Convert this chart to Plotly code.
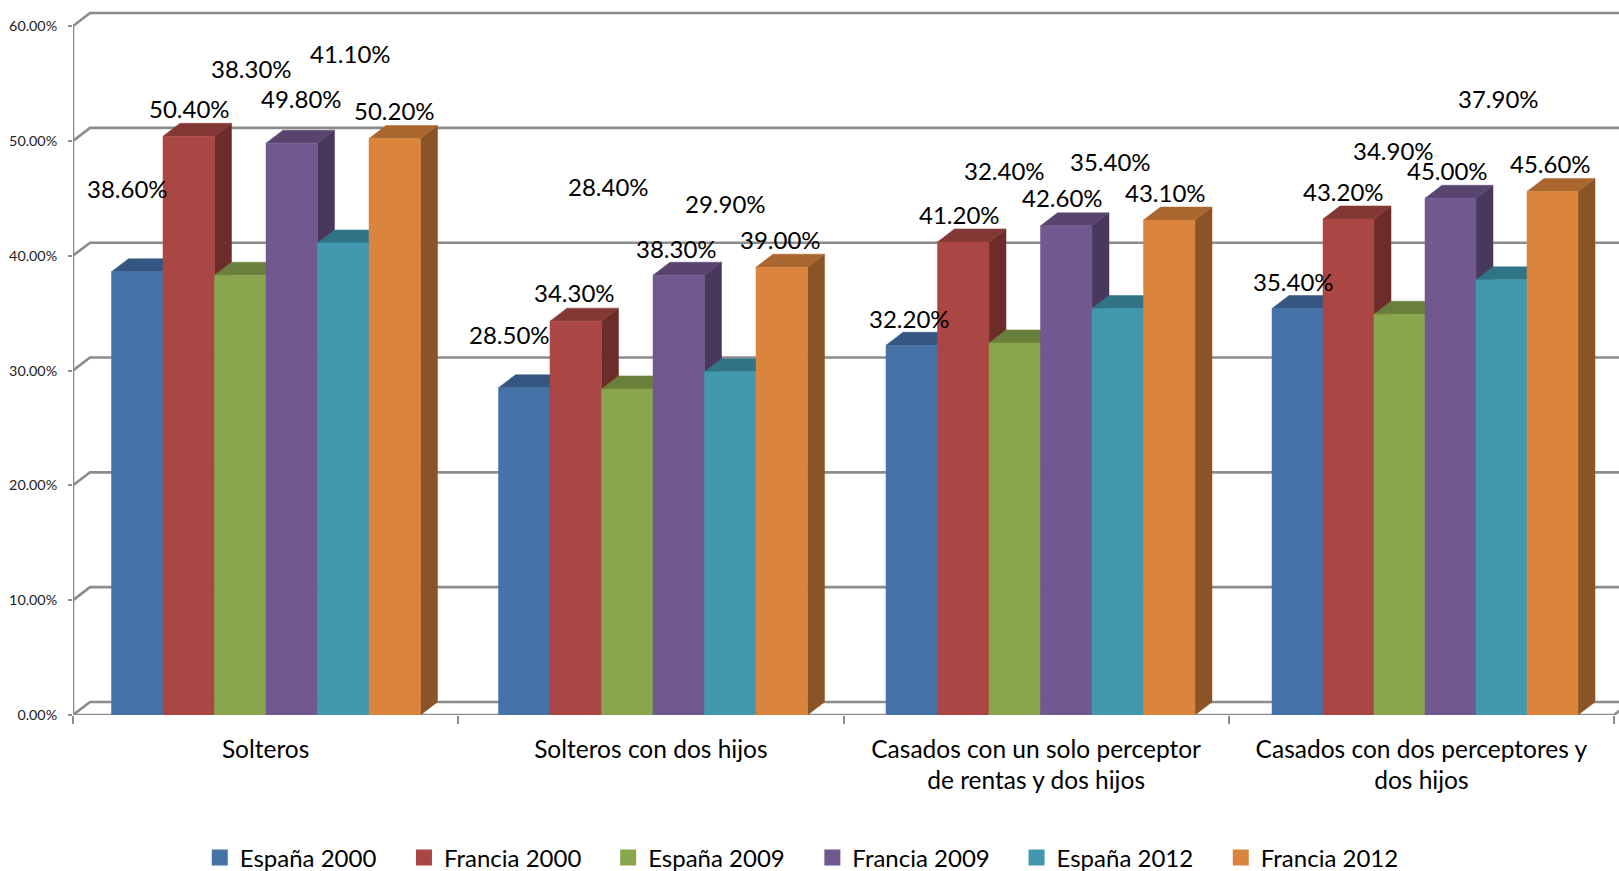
import plotly.graph_objects as go

CATEGORIES = ["Solteros", "Solteros con dos hijos",
              "Casados con un solo perceptor<br>de rentas y dos hijos",
              "Casados con dos perceptores y<br>dos hijos"]
SERIES = ["España 2000", "Francia 2000", "España 2009", "Francia 2009", "España 2012", "Francia 2012"]
ESP_2000 = [38.6, 28.5, 32.2, 35.4]
FRA_2000 = [50.4, 34.3, 41.2, 43.2]
ESP_2009 = [38.3, 28.4, 32.4, 34.9]
FRA_2009 = [49.8, 38.3, 42.6, 45.0]
ESP_2012 = [41.1, 29.9, 35.4, 37.9]
FRA_2012 = [50.2, 39.0, 43.1, 45.6]
VALUES = [ESP_2000, FRA_2000, ESP_2009, FRA_2009, ESP_2012, FRA_2012]
Y_TICKS = [0, 10, 20, 30, 40, 50, 60]

FRONT = ["#4572A7", "#AA4643", "#89A54E", "#71588F", "#4198AF", "#DB843D"]
TOP = ["#345681", "#843835", "#6A7F3C", "#58446F", "#307587", "#A9662E"]
SIDE = ["#2A4668", "#6C2C2A", "#566733", "#48385C", "#27606F", "#8A5427"]
GRID = "#8C8C8C"

# page geometry
W, H = 1619, 871
AXIS_X, AXIS_Y = 73, 715            # page pixels of the front-left origin
L = AXIS_X
B = H - AXIS_Y
T = 10
PX_PER_CAT = 385.25
PX_PER_PCT = 11.483
DX = 17 / PX_PER_CAT
DY = 13 / PX_PER_PCT
GROUP_START = [(s - AXIS_X) / PX_PER_CAT for s in (111.5, 498.5, 886, 1272)]
BAR_W = [w / PX_PER_CAT for w in (51.5, 51.5, 51.5, 51.0)]
X_MAX = (W - L) / PX_PER_CAT
Y_MAX = (H - B - T) / PX_PER_PCT

# manual data label centres, page pixels, per series then category
LABEL_X = [[127, 509, 909, 1293], [189, 574, 959, 1343], [251, 608, 1004, 1393],
           [301, 676, 1062, 1447], [350, 725, 1110, 1498], [394, 780, 1165, 1550]]
LABEL_Y = [[188, 334, 318, 281], [108, 292, 214, 191], [68, 186, 170, 150],
           [98, 248, 197, 170], [53, 203, 161, 98], [110, 239, 192, 163]]


def xd(px):
    return (px - AXIS_X) / PX_PER_CAT


def yd(py):
    return (AXIS_Y - py) / PX_PER_PCT


fig = go.Figure()


def face(xs, ys, color):
    fig.add_trace(go.Scatter(x=xs, y=ys, mode="lines", fill="toself", fillcolor=color,
                             line=dict(color=color, width=0.5), hoverinfo="skip",
                             showlegend=False, cliponaxis=False))


def line(xs, ys, w=2.6):
    fig.add_trace(go.Scatter(x=xs, y=ys, mode="lines", line=dict(color=GRID, width=w),
                             hoverinfo="skip", showlegend=False, cliponaxis=False))


# walls and gridlines
n = len(CATEGORIES)
for t in Y_TICKS[1:]:
    line([0, DX, X_MAX], [t, t + DY, t + DY])
line([0, DX, X_MAX], [0, DY, DY])
line([0, 0], [0, Y_TICKS[-1]])
line([0, n, n + DX], [0, 0, DY])

# bars, painted from left to right
for c in range(n):
    for s, vals in enumerate(VALUES):
        v = vals[c]
        x0 = GROUP_START[c] + s * BAR_W[c]
        x1 = x0 + BAR_W[c]
        face([x1, x1 + DX, x1 + DX, x1, x1], [0, DY, v + DY, v, 0], SIDE[s])
        face([x0, x0 + DX, x1 + DX, x1, x0], [v, v + DY, v + DY, v, v], TOP[s])
        face([x0, x1, x1, x0, x0], [0, 0, v, v, 0], FRONT[s])

# legend keys
for s, name in enumerate(SERIES):
    fig.add_trace(go.Scatter(x=[None], y=[None], mode="markers", name=name,
                             marker=dict(symbol="square", size=16, color=FRONT[s])))

# data labels
for s, vals in enumerate(VALUES):
    for c, v in enumerate(vals):
        fig.add_annotation(x=xd(LABEL_X[s][c]), y=yd(LABEL_Y[s][c]), text=f"{v:.2f}%",
                           showarrow=False, font=dict(family="Lato", size=24, color="#000000"))

fig.update_layout(
    width=W, height=H, autosize=False,
    margin=dict(l=L, r=0, t=T, b=B, pad=0),
    paper_bgcolor="white", plot_bgcolor="white",
    font=dict(family="Lato", color="#000000"),
    showlegend=True,
    legend=dict(orientation="h", x=0.4785, xref="paper", xanchor="center",
                y=0.0149, yref="container", yanchor="middle",
                font=dict(family="Lato", size=24), entrywidth=159.2, entrywidthmode="pixels",
                itemwidth=30, bgcolor="rgba(0,0,0,0)"),
    xaxis=dict(range=[0, X_MAX], tickmode="array", tickvals=[i + 0.5 for i in range(n)],
               ticktext=CATEGORIES, ticks="", showgrid=False, zeroline=False, showline=False,
               tickfont=dict(family="Lato", size=24.5, color="#000000"), ticklabelstandoff=17,
               minor=dict(tickmode="array", tickvals=list(range(n + 1)), ticks="outside",
                          ticklen=8, tickwidth=2, tickcolor=GRID, showgrid=False)),
    yaxis=dict(range=[0, Y_MAX], tickmode="array", tickvals=Y_TICKS,
               ticktext=[f"{t:.2f}%" for t in Y_TICKS], ticks="outside", ticklen=4, tickwidth=2,
               tickcolor=GRID, showgrid=False, zeroline=False, showline=False,
               tickfont=dict(family="Lato", size=14.3, color="#222222"), ticklabelstandoff=8),
)
fig.write_html("out.html", config={"displayModeBar": False},
               post_script="document.body.style.margin='0';document.documentElement.style.overflow='hidden';")
